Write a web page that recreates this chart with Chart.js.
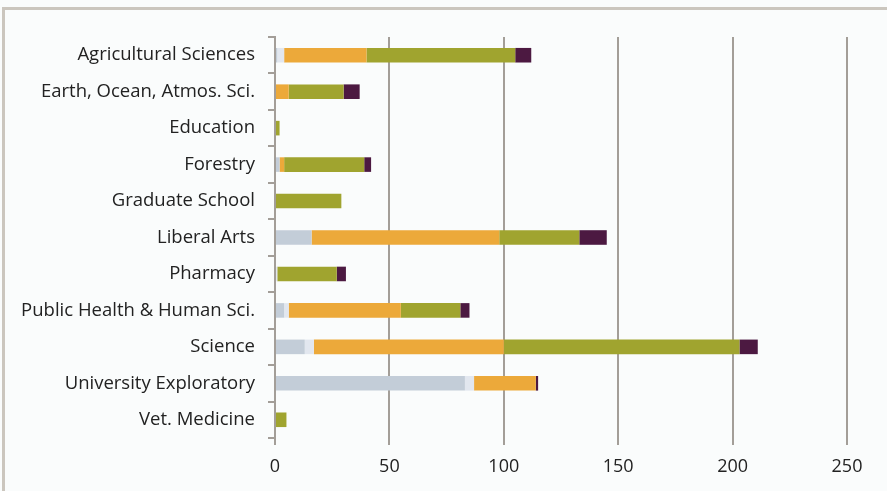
<!DOCTYPE html>
<html><head><meta charset="utf-8">
<script src="https://cdn.jsdelivr.net/npm/chart.js@4"></script>
<style>
html,body{margin:0;padding:0;background:#fafcfc;overflow:hidden;}
#frame{position:absolute;left:2px;top:7px;width:1000px;height:600px;border:3px solid #cbc6be;box-sizing:border-box;}
#wrap{position:absolute;left:0;top:0;width:887px;height:491px;}
</style></head>
<body>
<div id="frame"></div>
<div id="wrap"><canvas id="c" width="887" height="491"></canvas></div>
<script>
const categories = ["Agricultural Sciences","Earth, Ocean, Atmos. Sci.","Education","Forestry","Graduate School","Liberal Arts","Pharmacy","Public Health & Human Sci.","Science","University Exploratory","Vet. Medicine"];
const series1 = [1, 0, 0, 2, 0, 16, 0, 4, 13, 83, 0];
const series2 = [3, 0, 0, 0, 0, 0, 1, 2, 4, 4, 0];
const series3 = [36, 6, 0, 2, 0, 82, 0, 49, 83, 27, 0];
const series4 = [65, 24, 2, 35, 29, 35, 26, 26, 103, 0, 5];
const series5 = [7, 7, 0, 3, 0, 12, 4, 4, 8, 1, 0];
const xTicks = [0, 50, 100, 150, 200, 250];

const colors = ["#c3cdd8", "#e2e7ef", "#eca93a", "#a0a42f", "#4c1941"];
const gridColor = "#a39e98";
const all = [series1, series2, series3, series4, series5];

new Chart(document.getElementById('c'), {
  type: 'bar',
  data: {
    labels: categories,
    datasets: all.map((d, i) => ({
      data: d,
      backgroundColor: colors[i],
      borderWidth: 0,
      barPercentage: 0.8,
      categoryPercentage: 0.5
    }))
  },
  options: {
    indexAxis: 'y',
    responsive: false,
    animation: false,
    layout: { padding: { left: 0, right: 40, top: 37, bottom: 0 } },
    plugins: { legend: { display: false }, tooltip: { enabled: false } },
    scales: {
      x: {
        stacked: true,
        min: 0, max: 250,
        afterBuildTicks: s => { s.ticks = xTicks.map(v => ({ value: v })); },
        afterFit: s => { s.height = 53; },
        ticks: { color: '#222222', font: { family: 'Open Sans', size: 18 }, padding: 11, maxRotation: 0 },
        grid: { color: gridColor, lineWidth: 2, tickLength: 7, drawOnChartArea: true },
        border: { display: false }
      },
      y: {
        stacked: true,
        afterFit: s => { s.width = 275; },
        ticks: { color: '#222222', font: { family: 'Open Sans', size: 18.5, lineHeight: 1.1 }, padding: 13, autoSkip: false },
        grid: { color: gridColor, lineWidth: 2, tickLength: 7, drawOnChartArea: false, offset: true },
        border: { display: true, color: gridColor, width: 2 }
      }
    }
  }
});
</script>
</body></html>
